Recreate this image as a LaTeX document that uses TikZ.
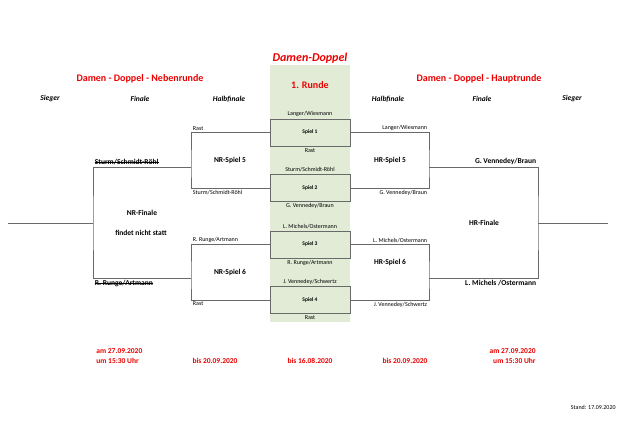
\documentclass[tikz,border=0pt]{standalone}
\usepackage{fontspec}
\setmainfont{Carlito}
\usetikzlibrary{positioning}
\definecolor{bandgreen}{RGB}{226,235,214}
\definecolor{linegray}{RGB}{105,105,105}
\definecolor{titlered}{RGB}{235,0,0}

\begin{document}
\begin{tikzpicture}[x=1pt,y=-1pt,line width=0.8pt]
  \tikzstyle{spiel}=[draw=linegray,fill=bandgreen,minimum width=80pt,minimum height=27pt,
                     font=\fontsize{5.5}{6}\selectfont\bfseries]
  \tikzstyle{team}=[inner sep=1.5pt,font=\fontsize{6}{7}\selectfont]
  \tikzstyle{head}=[font=\fontsize{7.5}{9}\selectfont\bfseries\itshape]
  \tikzstyle{title}=[text=titlered,font=\fontsize{10}{12}\selectfont\bfseries]
  \tikzstyle{datum}=[text=titlered,inner sep=1pt,font=\fontsize{7.5}{9}\selectfont\bfseries]
  \tikzstyle{match}=[inner sep=1.5pt,font=\fontsize{7.5}{9}\selectfont\bfseries]
  \tikzstyle{bracket}=[draw=linegray]
  \tikzstyle{strike}=[draw=black,line width=0.5pt,shorten <=1.5pt,shorten >=1.5pt]

  \useasboundingbox (0,0) rectangle (624,441);
  \fill[bandgreen] (270,65) rectangle (350,322);

  % titles
  \node[title,font=\fontsize{12}{14}\selectfont\bfseries\itshape] (ttl) at (310,58) {Damen-Doppel};
  \node[title] (rnd) at (310,85) {1. Runde};
  \node[title] (nrt) at (140,79) {Damen - Doppel - Nebenrunde};
  \node[title] (hrt) at (479,79) {Damen - Doppel - Hauptrunde};

  \node[head] (hs1) at (50,99)  {Sieger};
  \node[head] (hf1) at (140,99) {Finale};
  \node[head] (hh1) at (229,99) {Halbfinale};
  \node[head] (hh2) at (388,99) {Halbfinale};
  \node[head] (hf2) at (482,99) {Finale};
  \node[head] (hs2) at (572,99) {Sieger};

  % first round
  \node[spiel] (s1) at (310,132.5) {Spiel 1};
  \node[spiel] (s2) at (310,188)   {Spiel 2};
  \node[spiel] (s3) at (310,244.5) {Spiel 3};
  \node[spiel] (s4) at (310,300)   {Spiel 4};

  \node[team] (s1o) [above=0pt of s1] {Langer/Wiesmann};
  \node[team] (s1u) [below=0pt of s1] {Rast};
  \node[team] (s2o) [above=0pt of s2] {Sturm/Schmidt-Röhl};
  \node[team] (s2u) [below=0pt of s2] {G. Vennedey/Braun};
  \node[team] (s3o) [above=0pt of s3] {L. Michels/Ostermann};
  \node[team] (s3u) [below=0pt of s3] {R. Runge/Artmann};
  \node[team] (s4o) [above=0pt of s4] {J. Vennedey/Schwertz};
  \node[team] (s4u) [below=0pt of s4] {Rast};

  % Nebenrunde
  \coordinate (nr5p) at (191,167);
  \coordinate (nr6p) at (191,278);
  \coordinate (nrfp) at (93,223);
  \coordinate (nrsp) at (8,223);
  \draw[bracket] (s1.west) -| (nr5p) |- (s2.west);
  \draw[bracket] (s3.west) -| (nr6p) |- (s4.west);
  \draw[bracket] (nr5p) -| (nrfp) |- (nr6p);
  \draw[bracket] (nrfp) -- (nrsp);

  \node[team,anchor=south west] (nl1) at (s1.west -| nr5p) {Rast};
  \node[team,anchor=north west] (nl2) at (s2.west -| nr5p) {Sturm/Schmidt-Röhl};
  \node[team,anchor=south west] (nl3) at (s3.west -| nr6p) {R. Runge/Artmann};
  \node[team,anchor=north west] (nl4) at (s4.west -| nr6p) {Rast};
  \node[match] (nr5) at (230,160) {NR-Spiel 5};
  \node[match] (nr6) at (230,272) {NR-Spiel 6};
  \node[match,anchor=south west] (nw5) at (nr5p -| nrfp) {Sturm/Schmidt-Röhl};
  \node[match,anchor=north west] (nw6) at (nr6p -| nrfp) {R. Runge/Artmann};
  \draw[strike] (nw5.mid west) -- (nw5.mid east);
  \draw[strike] (nw6.mid west) -- (nw6.mid east);
  \node[match] (nrf) at (142,213) {NR-Finale};
  \node[match] (nrx) at (141,233) {findet nicht statt};

  % Hauptrunde
  \coordinate (hr5p) at (429,167);
  \coordinate (hr6p) at (429,278);
  \coordinate (hrfp) at (538,223);
  \coordinate (hrsp) at (608,223);
  \draw[bracket] (s1.east) -| (hr5p) |- (s2.east);
  \draw[bracket] (s3.east) -| (hr6p) |- (s4.east);
  \draw[bracket] (hr5p) -| (hrfp) |- (hr6p);
  \draw[bracket] (hrfp) -- (hrsp);

  \node[team,anchor=south east] (hl1) at (s1.east -| hr5p) {Langer/Wiesmann};
  \node[team,anchor=north east] (hl2) at (s2.east -| hr5p) {G. Vennedey/Braun};
  \node[team,anchor=south east] (hl3) at (s3.east -| hr6p) {L. Michels/Ostermann};
  \node[team,anchor=north east] (hl4) at (s4.east -| hr6p) {J. Vennedey/Schwertz};
  \node[match] (hr5) at (390,160) {HR-Spiel 5};
  \node[match] (hr6) at (390,262) {HR-Spiel 6};
  \node[match,anchor=south east] (hw5) at (hr5p -| hrfp) {G. Vennedey/Braun};
  \node[match,anchor=north east] (hw6) at (hr6p -| hrfp) {L. Michels /Ostermann};
  \node[match] (hrf) at (484,223) {HR-Finale};

  % Termine
  \node[datum,anchor=west] (d1a) at (95,351) {am 27.09.2020};
  \node[datum,anchor=west] (d1b) at (95,361) {um 15:30 Uhr};
  \node[datum] (d2) at (215,361) {bis 20.09.2020};
  \node[datum] (d3) at (310,361) {bis 16.08.2020};
  \node[datum] (d4) at (405,361) {bis 20.09.2020};
  \node[datum,anchor=east] (d5a) at (537,351) {am 27.09.2020};
  \node[datum,anchor=east] (d5b) at (537,361) {um 15:30 Uhr};
  \node[team,inner sep=0pt,font=\fontsize{6}{7}\selectfont,anchor=east] (std) at (616,407) {Stand: 17.09.2020};
\end{tikzpicture}
\end{document}
